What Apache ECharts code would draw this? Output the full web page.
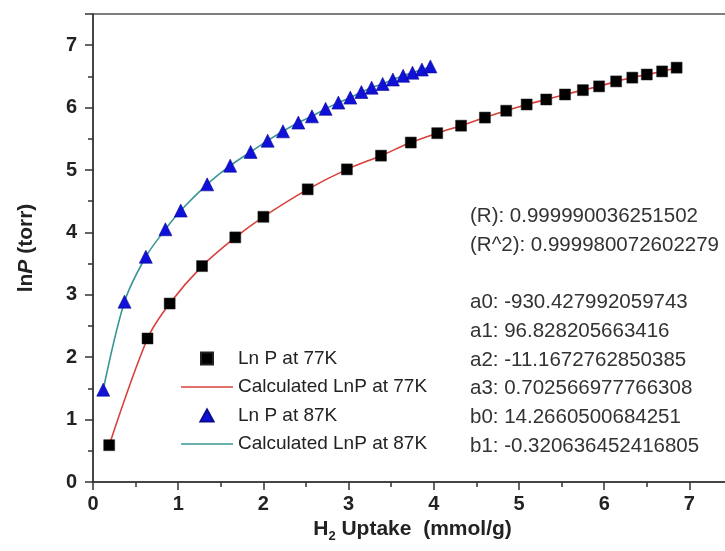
<!DOCTYPE html>
<html>
<head>
<meta charset="utf-8">
<script src="https://cdn.jsdelivr.net/npm/echarts@6/dist/echarts.min.js"></script>
<style>
  html, body { margin: 0; padding: 0; background: #fff; }
  #main { width: 725px; height: 551px; }
</style>
</head>
<body>
<div id="main"></div>
<script>
// measured points, 77 K
var x77 = [0.19, 0.64, 0.90, 1.28, 1.67, 2.00, 2.52, 2.98, 3.38, 3.73, 4.04, 4.32, 4.60, 4.85, 5.09, 5.32, 5.54, 5.75, 5.94, 6.14, 6.33, 6.50, 6.68, 6.85];
var y77 = [0.59, 2.30, 2.86, 3.46, 3.92, 4.25, 4.69, 5.01, 5.23, 5.44, 5.59, 5.71, 5.84, 5.95, 6.05, 6.13, 6.21, 6.28, 6.34, 6.42, 6.48, 6.53, 6.58, 6.64];
// measured points, 87 K
var x87 = [0.12, 0.37, 0.62, 0.85, 1.03, 1.34, 1.61, 1.85, 2.05, 2.23, 2.41, 2.57, 2.73, 2.88, 3.02, 3.15, 3.27, 3.40, 3.52, 3.64, 3.75, 3.86, 3.96];
var y87 = [1.48, 2.89, 3.61, 4.05, 4.35, 4.77, 5.07, 5.29, 5.47, 5.62, 5.76, 5.86, 5.98, 6.08, 6.16, 6.25, 6.32, 6.38, 6.45, 6.51, 6.56, 6.61, 6.66];

var seriesNames = ['Ln P at 77K', 'Calculated LnP at 77K', 'Ln P at 87K', 'Calculated LnP at 87K'];
var fitLines = [
  '(R): 0.999990036251502',
  '(R^2): 0.999980072602279',
  '',
  'a0: -930.427992059743',
  'a1: 96.828205663416',
  'a2: -11.1672762850385',
  'a3: 0.702566977766308',
  'b0: 14.2660500684251',
  'b1: -0.320636452416805'
];

function pairs(xs, ys) {
  return xs.map(function (x, i) { return [x, ys[i]]; });
}

var chart = echarts.init(document.getElementById('main'));

var graphics = fitLines.map(function (t, i) {
  return {
    type: 'text',
    left: 470,
    top: 206 + i * 28.7,
    style: { text: t, fill: '#333', font: '20.5px Arial' }
  };
});

var squareIcon = 'path://M0,0 L10,0 L10,10 L0,10 Z';
var triIcon = 'path://M6,0 L12,11 L0,11 Z';
var lineIcon = 'path://M0,0 L52,0 L52,1.6 L0,1.6 Z';

var option = {
  animation: false,
  backgroundColor: '#fff',
  grid: {
    left: 93, top: 14, right: -7, bottom: 69,
    outerBoundsMode: 'none',
    containLabel: false,
    show: true, borderColor: '#555', borderWidth: 1.5, backgroundColor: 'transparent'
  },
  legend: {
    orient: 'vertical',
    left: 176,
    top: 344,
    itemWidth: 52,
    itemHeight: 12,
    itemGap: 9.5,
    textStyle: { fontFamily: 'Arial', fontSize: 19, color: '#222' },
    data: [
      { name: seriesNames[0], icon: squareIcon },
      { name: seriesNames[1], icon: lineIcon },
      { name: seriesNames[2], icon: triIcon },
      { name: seriesNames[3], icon: lineIcon }
    ]
  },
  xAxis: {
    type: 'value',
    min: 0, max: 7.5, interval: 1,
    name: '{b|H}{s|2}{b| Uptake  (mmol/g)}',
    nameLocation: 'middle',
    nameGap: 30,
    nameTextStyle: {
      rich: {
        b: { fontFamily: 'Arial', fontWeight: 'bold', fontSize: 21, color: '#222' },
        s: { fontFamily: 'Arial', fontWeight: 'bold', fontSize: 13, color: '#222', padding: [14, 0, 0, 0] }
      }
    },
    axisLine: { lineStyle: { color: '#333', width: 1.5 } },
    axisTick: { inside: false, length: 8, lineStyle: { color: '#333', width: 1.5 } },
    minorTick: { show: true, splitNumber: 2, length: 5, lineStyle: { color: '#333', width: 1.5 } },
    axisLabel: {
      margin: 12, fontFamily: 'Arial', fontWeight: 'bold', fontSize: 20, color: '#222',
      formatter: function (v) { return v > 7 ? '' : v; }
    },
    splitLine: { show: false }
  },
  yAxis: {
    type: 'value',
    min: 0, max: 7.5, interval: 1,
    name: '{b|ln}{i|P}{b| (torr)}',
    nameLocation: 'middle',
    nameGap: 56,
    nameRotate: 90,
    nameTextStyle: {
      rich: {
        b: { fontFamily: 'Arial', fontWeight: 'bold', fontSize: 21, color: '#222' },
        i: { fontFamily: 'Arial', fontWeight: 'bold', fontStyle: 'italic', fontSize: 21, color: '#222' }
      }
    },
    axisLine: { show: true, lineStyle: { color: '#333', width: 1.5 } },
    axisTick: { show: true, inside: false, length: 8, lineStyle: { color: '#333', width: 1.5 } },
    minorTick: { show: true, splitNumber: 2, length: 5, lineStyle: { color: '#333', width: 1.5 } },
    axisLabel: {
      margin: 16, fontFamily: 'Arial', fontWeight: 'bold', fontSize: 20, color: '#222',
      formatter: function (v) { return v > 7 ? '' : v; }
    },
    splitLine: { show: false }
  },
  series: [
    {
      name: seriesNames[0], type: 'scatter', data: pairs(x77, y77),
      symbol: 'rect', symbolSize: 11, z: 4,
      itemStyle: { color: '#000', opacity: 1, borderColor: '#222', borderWidth: 0.5 }
    },
    {
      name: seriesNames[1], type: 'line', data: pairs(x77, y77),
      smooth: 0.3, symbol: 'none', z: 2,
      lineStyle: { color: '#d8403b', width: 1.6 }, itemStyle: { color: '#d8403b' }
    },
    {
      name: seriesNames[2], type: 'scatter', data: pairs(x87, y87),
      symbol: 'triangle', symbolSize: 13, z: 4,
      itemStyle: { color: '#1010d8', opacity: 1, borderColor: '#0a0a90', borderWidth: 0.6 }
    },
    {
      name: seriesNames[3], type: 'line', data: pairs(x87, y87),
      smooth: 0.3, symbol: 'none', z: 2,
      lineStyle: { color: '#3a9696', width: 1.6 }, itemStyle: { color: '#3a9696' }
    }
  ],
  graphic: graphics
};

chart.setOption(option);
</script>
</body>
</html>
